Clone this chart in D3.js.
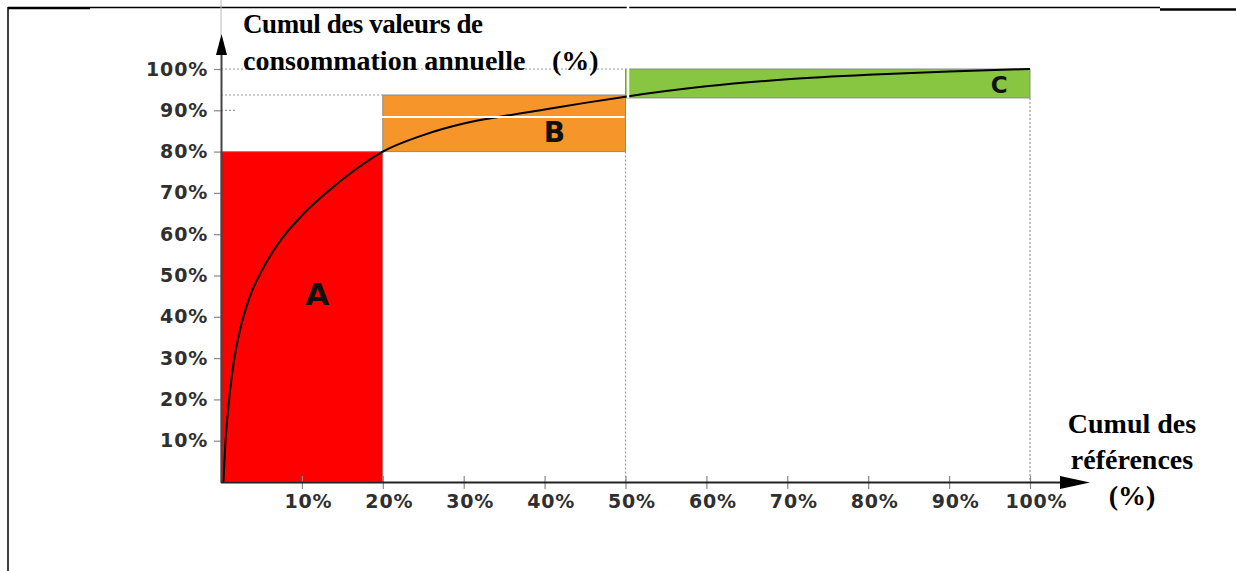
<!DOCTYPE html>
<html lang="fr">
<head>
<meta charset="utf-8">
<title>Courbe ABC – Pareto</title>
<script src="https://cdn.jsdelivr.net/npm/d3@7/dist/d3.min.js"></script>
<style>
  html, body { margin: 0; padding: 0; background: #ffffff; }
  svg { display: block; }
  .tick-label { font-family: "DejaVu Sans", sans-serif; font-weight: bold; fill: #2f2f2f; }
  .serif { font-family: "Liberation Serif", "Times New Roman", serif; font-weight: bold; fill: #000; }
</style>
</head>
<body>
<svg id="chart" width="1236" height="571"></svg>
<script>
// ---- Data -------------------------------------------------------------
// Class zones: share of references (x, %) and share of annual consumption value (y, %)
const classes    = ["A", "B", "C"];
const refStart   = [0, 20, 50];
const refEnd     = [20, 50, 100];
const valStart   = [0, 80, 93];
const valEnd     = [80, 93.7, 100];
const zoneColors = ["#ff0000", "#f6952a", "#88c540"];

// Cumulative Pareto curve: [% of references, % of consumption value]
const curveRef = [0.3, 0.5, 0.9, 1.5, 2.5, 3.5, 5, 7, 10, 13, 16.5, 20,
                  25, 30, 35, 40, 45, 50, 60, 70, 80, 90, 100];
const curveVal = [0, 8, 18, 28, 38, 44.5, 51, 57.5, 64.5, 70, 75.5, 80,
                  84, 86.8, 88.6, 90.2, 91.8, 93.3, 95.8, 97.5, 98.6, 99.4, 100];

// Axis ticks
const xTicks = [10, 20, 30, 40, 50, 60, 70, 80, 90, 100];
const yTicks = [10, 20, 30, 40, 50, 60, 70, 80, 90, 100];

// Titles
const yTitleLine1 = "Cumul des valeurs de";
const yTitleLine2 = ["consommation annuelle", "(%)"];
const xTitle = ["Cumul des", "références", "(%)"];

// ---- Layout -----------------------------------------------------------
const svg = d3.select("#chart");
const x = d3.scaleLinear().domain([0, 100]).range([221, 1030]);
const y = d3.scaleLinear().domain([0, 100]).range([482, 69]);
const letterPos = { A: [11.9, 45.5, 31], B: [41.2, 84.6, 28], C: [96.2, 96.1, 23] };

// Page frame
const frame = svg.append("g").attr("stroke", "#000");
frame.append("line").attr("x1", 8).attr("x2", 8).attr("y1", 7).attr("y2", 571).attr("stroke-width", 1.5);
frame.append("line").attr("x1", 8).attr("x2", 90).attr("y1", 8).attr("y2", 8).attr("stroke-width", 2.5);
frame.append("line").attr("x1", 90).attr("x2", 1160).attr("y1", 7.5).attr("y2", 7.5).attr("stroke-width", 1.5);
frame.append("line").attr("x1", 1160).attr("x2", 1236).attr("y1", 9.5).attr("y2", 9.5).attr("stroke-width", 2.5);

// Zone rectangles
const zones = classes.map((c, i) => ({ c, x0: refStart[i], x1: refEnd[i], y0: valStart[i], y1: valEnd[i], color: zoneColors[i] }));
svg.append("g").selectAll("rect").data(zones).join("rect")
  .attr("x", d => x(d.x0))
  .attr("y", d => y(d.y1))
  .attr("width", d => x(d.x1) - x(d.x0))
  .attr("height", d => y(d.y0) - y(d.y1))
  .attr("fill", d => d.color)
  .attr("stroke", "#8a8a8a")
  .attr("stroke-width", 1);

// Dotted guide lines
const guides = svg.append("g").attr("stroke", "#9a9a9a").attr("stroke-width", 1.2).attr("stroke-dasharray", "2,2");
guides.append("line").attr("x1", x(0)).attr("x2", x(refStart[2])).attr("y1", y(100)).attr("y2", y(100));
guides.append("line").attr("x1", x(0)).attr("x2", x(refStart[1])).attr("y1", y(valEnd[1])).attr("y2", y(valEnd[1]));
guides.append("line").attr("x1", x(refEnd[1])).attr("x2", x(refEnd[1])).attr("y1", y(valStart[1])).attr("y2", y(0));
guides.append("line").attr("x1", x(refEnd[2])).attr("x2", x(refEnd[2])).attr("y1", y(valStart[2])).attr("y2", y(0));
guides.append("line").attr("x1", x(0)).attr("x2", x(0) + 14).attr("y1", y(90)).attr("y2", y(90));

// Pareto curve
const pts = curveRef.map((r, i) => [r, curveVal[i]]);
svg.append("path")
  .datum(pts)
  .attr("fill", "none")
  .attr("stroke", "#000")
  .attr("stroke-width", 2)
  .attr("d", d3.line().x(d => x(d[0])).y(d => y(d[1])).curve(d3.curveMonotoneX));

// White separators over the B and C zones
const seps = svg.append("g").attr("stroke", "#fff");
seps.append("line").attr("x1", x(refEnd[1]) + 2.5).attr("x2", x(refEnd[1]) + 2.5)
  .attr("y1", 0).attr("y2", y(valStart[2])).attr("stroke-width", 2.5);
seps.append("line").attr("x1", x(19.5)).attr("x2", x(refEnd[1]) - 1)
  .attr("y1", y(88.4)).attr("y2", y(88.4)).attr("stroke-width", 2);

// Class letters
svg.append("g").selectAll("text").data(classes).join("text")
  .attr("class", "tick-label")
  .attr("x", c => x(letterPos[c][0]))
  .attr("y", c => y(letterPos[c][1]))
  .attr("text-anchor", "middle")
  .attr("dominant-baseline", "central")
  .attr("font-size", c => letterPos[c][2])
  .style("fill", "#111")
  .text(c => c);

// Y axis
const yAxis = svg.append("g")
  .attr("transform", `translate(${x(0)},0)`)
  .call(d3.axisLeft(y).tickValues(yTicks).tickSize(7).tickPadding(6).tickFormat(d => d + "%"));
yAxis.select(".domain").remove();
yAxis.selectAll(".tick line").attr("stroke", "#888").attr("stroke-width", 1.2);
yAxis.selectAll(".tick text").attr("class", "tick-label").attr("font-size", 19).attr("letter-spacing", 0.8)
  .attr("font-family", null);

// X axis
const xAxis = svg.append("g")
  .attr("transform", `translate(0,${y(0)})`)
  .call(d3.axisBottom(x).tickValues(xTicks).tickSize(7).tickPadding(6).tickFormat(d => d + "%"));
xAxis.select(".domain").remove();
xAxis.selectAll(".tick line").attr("stroke", "#888").attr("stroke-width", 1.2).attr("y1", -6).attr("y2", 7);
xAxis.selectAll(".tick text").attr("class", "tick-label").attr("font-size", 19).attr("letter-spacing", 0.8)
  .attr("dx", 6).attr("font-family", null);

// Axis lines with arrow heads
const ax = svg.append("g");
ax.append("line").attr("x1", x(0)).attr("x2", x(0)).attr("y1", 0).attr("y2", 36)
  .attr("stroke", "#bbb").attr("stroke-width", 1);
ax.append("line").attr("x1", x(0) + 0.5).attr("x2", x(0) + 0.5).attr("y1", y(0) + 1).attr("y2", 52)
  .attr("stroke", "#444").attr("stroke-width", 2);
ax.append("path").attr("d", `M${x(0) + 0.5},34 L${x(0) - 5},55 L${x(0) + 6},55 Z`).attr("fill", "#000");
ax.append("line").attr("x1", x(0)).attr("x2", 1064).attr("y1", y(0) + 0.5).attr("y2", y(0) + 0.5)
  .attr("stroke", "#222").attr("stroke-width", 2);
ax.append("path").attr("d", `M1090,${y(0) + 0.5} L1060,${y(0) - 6} L1060,${y(0) + 7} Z`).attr("fill", "#000");

// Axis titles
const yT = svg.append("text").attr("class", "serif").attr("font-size", 27);
yT.append("tspan").attr("x", 243).attr("y", 33).attr("textLength", 240).text(yTitleLine1);
yT.append("tspan").attr("x", 243).attr("y", 70).attr("font-size", 28).text(yTitleLine2[0]);
yT.append("tspan").attr("x", 552).attr("y", 70).attr("font-size", 28).text(yTitleLine2[1]);
svg.append("text").attr("class", "serif").attr("font-size", 28).attr("text-anchor", "middle")
  .selectAll("tspan").data(xTitle).join("tspan")
  .attr("x", 1132).attr("y", (d, i) => 433 + i * 36).text(d => d);
</script>
</body>
</html>
